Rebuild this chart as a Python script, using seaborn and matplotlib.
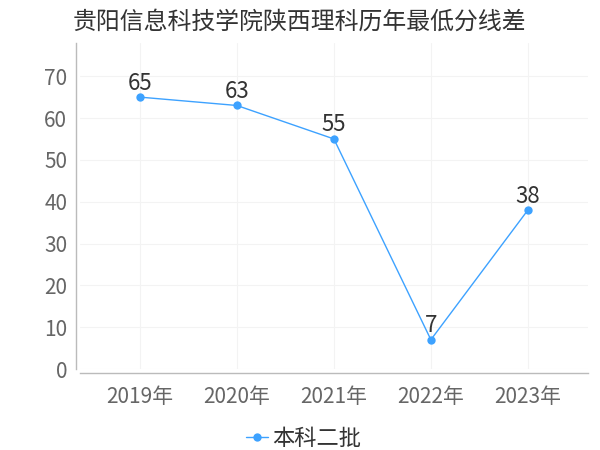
import numpy as np
import pandas as pd
import matplotlib
matplotlib.use('Agg')
import matplotlib.pyplot as plt
import seaborn as sns

years = ['2019年', '2020年', '2021年', '2022年', '2023年']
scores = [65, 63, 55, 7, 38]
series_name = '本科二批'
title = '贵阳信息科技学院陕西理科历年最低分线差'

sns.set_theme(style='white')
plt.rcParams['font.family'] = ['Noto Sans CJK SC', 'DejaVu Sans']

df = pd.DataFrame({'year': years, 'score': scores, 'batch': series_name})

fig = plt.figure(figsize=(6, 4.5), dpi=100)
ax = fig.add_axes([0.133, 0.18, 0.847, 0.725])

blue = '#3da2ff'
sns.lineplot(data=df, x='year', y='score', hue='batch', palette=[blue],
             marker='o', markersize=6, markeredgewidth=0, linewidth=1, ax=ax)

for i, v in enumerate(scores):
    ax.text(i, v + 0.6, str(v), ha='center', va='bottom', fontsize=16, color='#333333')

ax.set_xlim(-0.62, 4.62)
ax.set_ylim(0, 78)
ax.set_yticks(range(0, 80, 10))
ax.set_xlabel('')
ax.set_ylabel('')
ax.grid(True, color='#f3f3f3', linewidth=0.8)
ax.tick_params(axis='both', labelsize=15, colors='#666666', length=4, width=0.8)
ax.tick_params(axis='x', pad=5)
ax.tick_params(axis='y', pad=2)
for s in ['top', 'right']:
    ax.spines[s].set_visible(False)
for s in ['left', 'bottom']:
    ax.spines[s].set_color('#bbbbbb')
    ax.spines[s].set_linewidth(1)
ax.spines['left'].set_position(('outward', 3))
ax.spines['bottom'].set_position(('outward', 3))

ax.set_title(title, fontsize=17.2, color='#333333', pad=10, x=0.433)

ax.legend(loc='upper center', bbox_to_anchor=(0.44, -0.115), frameon=False,
          fontsize=16, handlelength=1.0, handletextpad=0.2, labelcolor='#333333')

fig.savefig('out.png', dpi=100)
